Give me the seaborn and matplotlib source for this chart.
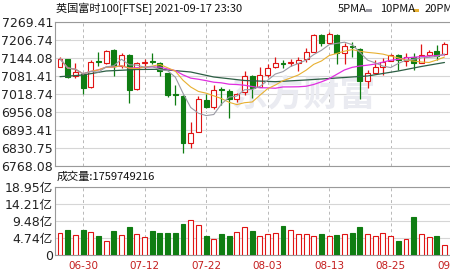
import numpy as np
import pandas as pd
import matplotlib
matplotlib.use("Agg")
import matplotlib.pyplot as plt
from matplotlib.patches import Rectangle
import seaborn as sns

# ---------------- data ----------------
dates = ["06-25", "06-28", "06-29", "06-30", "07-01", "07-02", "07-05", "07-06", "07-07", "07-08",
         "07-09", "07-12", "07-13", "07-14", "07-15", "07-16", "07-19", "07-20", "07-21", "07-22",
         "07-23", "07-26", "07-27", "07-28", "07-29", "07-30", "08-02", "08-03", "08-04", "08-05",
         "08-06", "08-09", "08-10", "08-11", "08-12", "08-13", "08-16", "08-17", "08-18", "08-19",
         "08-20", "08-23", "08-24", "08-25", "08-26", "08-27", "08-31", "09-01", "09-02", "09-03",
         "09-06"]
open_ = [7112.8, 7138.5, 7080.4, 7087.4, 7041.1, 7131.6, 7124.6, 7170.9, 7115.2, 7153.5,
         7034.1, 7124.6, 7132.6, 7126.7, 7089.8, 7017.7, 7010.8, 6848.2, 6886.5, 6996.8,
         6971.4, 7035.1, 7028.2, 6999.3, 7025.7, 7080.4, 7043.2, 7083.9, 7110.7, 7125.7,
         7124.6, 7124.6, 7138.5, 7165.0, 7223.1, 7196.3, 7223.1, 7159.4, 7183.8, 7173.4,
         7064.0, 7091.9, 7112.8, 7133.7, 7153.5, 7133.7, 7147.6, 7126.7, 7153.5, 7168.5,
         7157.0]
high = [7144.8, 7139.6, 7126.7, 7090.8, 7136.1, 7165.0, 7170.9, 7174.4, 7159.4, 7157.0,
        7130.2, 7138.5, 7159.4, 7129.1, 7091.9, 7049.1, 7012.5, 6921.3, 7010.8, 7017.7,
        7049.1, 7043.2, 7034.1, 7022.3, 7097.8, 7083.9, 7112.8, 7122.2, 7145.5, 7135.1,
        7138.5, 7145.5, 7176.8, 7226.6, 7224.9, 7234.6, 7224.9, 7194.3, 7199.8, 7176.8,
        7101.3, 7136.1, 7142.0, 7157.0, 7155.3, 7159.4, 7161.5, 7191.8, 7170.9, 7188.3,
        7199.8]
low = [7110.0, 7073.4, 7072.4, 7016.7, 7037.6, 7115.2, 7122.2, 7080.4, 7107.2, 6985.4,
       7031.7, 7103.7, 7121.1, 7080.4, 7008.3, 6979.4, 6813.4, 6830.8, 6885.4, 6969.0,
       6964.5, 6979.4, 6933.1, 6990.9, 7014.3, 7002.8, 7042.1, 7075.9, 7108.3, 7107.2,
       7115.2, 7098.9, 7130.2, 7164.0, 7185.9, 7195.3, 7121.1, 7121.1, 7147.6, 6999.3,
       7037.6, 7090.8, 7083.9, 7132.6, 7101.3, 7115.2, 7101.3, 7125.7, 7150.0, 7136.1,
       7153.5]
close = [7140.6, 7075.9, 7095.4, 7039.7, 7130.2, 7128.1, 7167.4, 7115.2, 7153.5, 7031.7,
         7124.6, 7128.1, 7129.1, 7097.8, 7014.3, 7012.5, 6848.2, 6880.9, 6999.3, 6971.4,
         7031.7, 7031.7, 7000.3, 7017.7, 7080.4, 7037.6, 7083.9, 7107.2, 7126.7, 7122.2,
         7128.1, 7136.1, 7165.0, 7223.1, 7196.3, 7226.6, 7159.4, 7184.9, 7180.3, 7064.0,
         7089.8, 7110.7, 7130.2, 7153.5, 7136.1, 7147.6, 7124.6, 7153.5, 7165.0, 7150.0,
         7191.8]
# volume in 亿 (1e8)
volume = [6.18, 6.80, 5.45, 6.80, 6.45, 5.18, 4.00, 6.54, 5.63, 7.63,
          5.90, 4.90, 6.54, 6.18, 6.18, 6.18, 8.72, 9.72, 8.36, 5.18,
          4.54, 5.72, 5.18, 6.45, 7.81, 6.72, 5.18, 5.90, 6.18, 8.17,
          7.00, 5.72, 5.90, 5.18, 5.72, 5.18, 5.45, 5.90, 6.18, 7.63,
          5.72, 5.18, 6.18, 5.18, 3.81, 4.36, 10.60, 5.72, 4.90, 5.18,
          2.90]
# long moving average line (at sample candles)
ma_long_idx = [0, 3, 6, 10, 13, 17, 20, 24, 28, 32, 36, 40, 44, 47, 50]
ma_long_val = [7078.0, 7083.9, 7097.8, 7103.0, 7103.7, 7094.3, 7076.9, 7064.7, 7060.6,
               7066.5, 7073.4, 7080.4, 7097.8, 7113.5, 7127.4]

price_ticks = [6768.08, 6830.75, 6893.41, 6956.08, 7018.74, 7081.41, 7144.08, 7206.74, 7269.41]
vol_ticks = [0, 4.74, 9.48, 14.21, 18.95]
vol_tick_labels = ["0", "4.74亿", "9.48亿", "14.21亿", "18.95亿"]
date_ticks = ["06-30", "07-12", "07-22", "08-03", "08-13", "08-25", "09-07"]
title_text = "英国富时100[FTSE] 2021-09-17 23:30"
vol_text = "成交量:1759749216"
legend_names = ["5PMA", "10PMA", "20PMA"]

# ---------------- style ----------------
sns.set_style("white")
plt.rcParams["font.family"] = ["DejaVu Sans", "Noto Sans CJK SC"]
CJK = ["Noto Sans CJK SC", "DejaVu Sans"]

RED = "#e01414"
GREEN = "#0f7d12"
C5 = "#9a9aa4"
C10 = "#e8b030"
C20 = "#e02ee0"
CL = "#2c5e44"
GRID = "#d6d6d6"
SPINE = "#9a9a9a"
VGRID = "#b8b8b8"
DATE_C = "#c41e1e"

W, H = 450, 276
fig = plt.figure(figsize=(W / 100, H / 100), dpi=100, facecolor="white")


def rect(l, t, r, b):
    return [l / W, 1 - b / H, (r - l) / W, (b - t) / H]


ax1 = fig.add_axes(rect(55, 21.7, 451, 165.7))
ax2 = fig.add_axes(rect(55, 186.7, 451, 255))

df = pd.DataFrame({"date": dates, "open": open_, "high": high, "low": low,
                   "close": close, "vol": volume})
df["i"] = np.arange(len(df))
df["up"] = df["close"] >= df["open"]
df["ma5"] = df["close"].rolling(5, min_periods=1).mean()
df["ma10"] = df["close"].rolling(10, min_periods=1).mean()
df["ma20"] = df["close"].rolling(20, min_periods=1).mean()

xlim = (-0.65, 50.85)
tick_pos = [dates.index(d) if d in dates else len(dates) for d in date_ticks]
in_pos = [p for p in tick_pos if p <= xlim[1]]
in_lab = [l for p, l in zip(tick_pos, date_ticks) if p <= xlim[1]]

# ---------------- price panel ----------------
bw = 0.64
for _, r in df.iterrows():
    col = RED if r["up"] else GREEN
    lo_b, hi_b = min(r["open"], r["close"]), max(r["open"], r["close"])
    ax1.vlines(r["i"], hi_b, r["high"], color=col, lw=0.9, zorder=3)
    ax1.vlines(r["i"], r["low"], lo_b, color=col, lw=0.9, zorder=3)
    h = max(hi_b - lo_b, 0.4)
    ax1.bar(r["i"], h, bottom=lo_b, width=bw,
            facecolor="white" if r["up"] else GREEN, edgecolor=col,
            linewidth=0.8, zorder=3)

sns.lineplot(x=ma_long_idx, y=ma_long_val, ax=ax1, color=CL, lw=0.9, zorder=4)
sns.lineplot(data=df, x="i", y="ma20", ax=ax1, color=C20, lw=0.9, zorder=4)
sns.lineplot(data=df, x="i", y="ma10", ax=ax1, color=C10, lw=0.8, zorder=4)
sns.lineplot(data=df, x="i", y="ma5", ax=ax1, color=C5, lw=0.8, zorder=4)

ax1.text(304 / W, 1 - 95 / H, "东方财富", transform=fig.transFigure, ha="center",
         va="center", fontsize=26, fontweight="bold", color="#eaebf1",
         family=CJK, zorder=1)

ax1.set_xlim(*xlim)
ax1.set_ylim(price_ticks[0], price_ticks[-1])
ax1.set_yticks(price_ticks)
ax1.set_yticklabels([f"{v:.2f}" for v in price_ticks], fontsize=9, color="#222222")
ax1.set_xticks(in_pos)
ax1.set_xticklabels([])
ax1.tick_params(axis="both", length=0, pad=1.5)
ax1.set_xlabel("")
ax1.set_ylabel("")
ax1.set_axisbelow(True)
ax1.yaxis.grid(True, color=GRID, lw=0.8, ls="-")
ax1.xaxis.grid(True, color=VGRID, lw=0.7, ls=(0, (3, 3)))
for s in ["left", "top", "bottom"]:
    ax1.spines[s].set_color(SPINE)
    ax1.spines[s].set_linewidth(0.8)
ax1.spines["right"].set_visible(False)

# ---------------- volume panel ----------------
up_df = df[df["up"]]
dn_df = df[~df["up"]]
n0 = len(ax2.patches)
sns.barplot(data=up_df, x="i", y="vol", native_scale=True, width=0.64,
            color=RED, linewidth=0.8, ax=ax2, zorder=3)
for p in ax2.patches[n0:]:
    p.set_facecolor("white")
    p.set_edgecolor(RED)
    p.set_linewidth(0.8)
n1 = len(ax2.patches)
sns.barplot(data=dn_df, x="i", y="vol", native_scale=True, width=0.64,
            color=GREEN, linewidth=0.8, ax=ax2, zorder=3)
for p in ax2.patches[n1:]:
    p.set_facecolor(GREEN)
    p.set_edgecolor(GREEN)

ax2.set_xlim(*xlim)
ax2.set_ylim(0, 18.95)
ax2.set_yticks(vol_ticks)
ax2.set_yticklabels(vol_tick_labels, fontsize=9, color="#222222")
ax2.set_xticks(in_pos)
ax2.set_xticklabels(in_lab, fontsize=7.5, color=DATE_C)
ax2.tick_params(axis="y", length=0, pad=1.5)
ax2.tick_params(axis="x", length=0, pad=4)
ax2.set_xlabel("")
ax2.set_ylabel("")
ax2.set_axisbelow(True)
ax2.yaxis.grid(True, color=GRID, lw=0.8, ls="-")
ax2.xaxis.grid(True, color=VGRID, lw=0.7, ls=(0, (3, 3)))
for s in ["left", "top", "bottom"]:
    ax2.spines[s].set_color(SPINE)
    ax2.spines[s].set_linewidth(0.8)
ax2.spines["right"].set_visible(False)
# last date label sits just past the visible area (cut by the image edge)
ax2.text(tick_pos[-1], 1 - 266 / H, date_ticks[-1],
         transform=matplotlib.transforms.blended_transform_factory(ax2.transData, fig.transFigure),
         ha="center", va="center", fontsize=7.5, color=DATE_C, clip_on=False)

# ---------------- texts ----------------
fig.text(56 / W, 1 - 8.5 / H, title_text, fontsize=8, va="center", ha="left",
         family=CJK, color="#111111")
fig.text(57 / W, 1 - 177 / H, vol_text, fontsize=8, va="center", ha="left",
         family=CJK, color="#111111")

leg_x = [338, 380, 425]
leg_cols = [C5, C10, C20]
for name, lx, c in zip(legend_names, leg_x, leg_cols):
    fig.text(lx / W, 1 - 9 / H, name, fontsize=8, va="center", ha="left",
             family=CJK, color="#111111")
fig.patches.append(Rectangle((366 / W, 1 - 12 / H), 6 / W, 2.5 / H,
                             transform=fig.transFigure, facecolor=C5, edgecolor="none"))
fig.patches.append(Rectangle((413 / W, 1 - 12 / H), 6 / W, 2.5 / H,
                             transform=fig.transFigure, facecolor=C10, edgecolor="none"))

fig.savefig("out.png", dpi=100, facecolor="white")
